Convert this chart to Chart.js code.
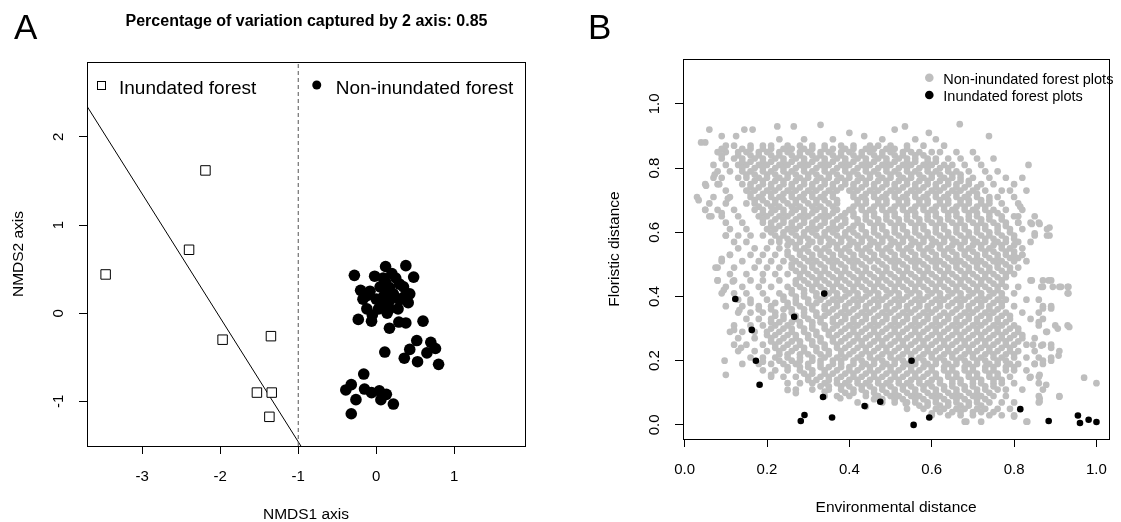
<!DOCTYPE html>
<html>
<head>
<meta charset="utf-8">
<script src="https://cdn.jsdelivr.net/npm/chart.js@4.4.1/dist/chart.umd.min.js"></script>
<style>
html, body { margin: 0; padding: 0; background: #fff; }
#wrap { position: relative; width: 1121px; height: 522px; overflow: hidden; }
#plotA { position: absolute; left: 0; top: 0; }
#plotB { position: absolute; left: 560px; top: 0; }
</style>
</head>
<body>
<div id="wrap">
  <canvas id="plotA" width="560" height="522"></canvas>
  <canvas id="plotB" width="561" height="522"></canvas>
</div>
<script>
// ---------- panel A : NMDS ordination ----------
var titleA = 'Percentage of variation captured by 2 axis: 0.85';
// [NMDS1, NMDS2]
var inundatedScores = [
  [-2.19, 1.62], [-2.40, 0.72], [-3.47, 0.44], [-1.97, -0.30],
  [-1.35, -0.26], [-1.53, -0.90], [-1.34, -0.90], [-1.37, -1.175]
];
var nonInundatedScores = [
  [-0.28, 0.43], [0.12, 0.53], [0.38, 0.54], [0.48, 0.41], [0.09, 0.40], [-0.20, 0.26],
  [-0.08, 0.25], [0.17, 0.29], [0.30, 0.33], [0.43, 0.22], [-0.17, 0.16], [0.00, 0.16],
  [0.17, 0.14], [0.35, 0.18], [-0.12, 0.05], [0.17, 0.05], [0.41, 0.12], [-0.23, -0.07],
  [-0.06, -0.09], [0.29, -0.10], [0.38, -0.11], [0.60, -0.09], [0.17, -0.17], [0.11, -0.44],
  [0.52, -0.31], [0.70, -0.33], [0.76, -0.40], [0.43, -0.41], [0.36, -0.51], [0.53, -0.55],
  [0.65, -0.45], [0.80, -0.58], [-0.16, -0.69], [-0.32, -0.81], [-0.39, -0.87], [-0.26, -0.98],
  [-0.15, -0.86], [-0.06, -0.90], [0.04, -0.88], [0.06, -0.98], [0.13, -0.92], [0.22, -1.03],
  [-0.32, -1.14], [0.05, 0.30], [0.10, 0.20], [0.22, 0.22], [0.25, 0.40], [0.30, 0.15],
  [0.03, 0.05], [0.12, 0.35], [-0.12, 0.20], [0.20, 0.45], [0.35, 0.30], [-0.02, 0.42],
  [0.28, 0.05], [0.08, 0.10], [0.14, 0.00], [-0.05, -0.02]
];
var splitLine = { a: -2.863, b: -1.405 };   // y = a + b * x
var splitX = -1;
var nmds1Ticks = [-3, -2, -1, 0, 1];
var nmds1TickLabels = ['-3', '-2', '-1', '0', '1'];
var nmds2Ticks = [-1, 0, 1, 2];
var nmds2TickLabels = ['-1', '0', '1', '2'];
var nmds1Range = [-3.709, 1.908];
var nmds2Range = [-1.506, 2.85];

// ---------- panel B : floristic vs environmental distance ----------
// inundated forest plots [env, floristic]
var inundatedPairs = [
  [0.123, 0.392], [0.163, 0.296], [0.173, 0.200], [0.182, 0.125], [0.266, 0.337],
  [0.339, 0.409], [0.336, 0.087], [0.291, 0.031], [0.282, 0.012], [0.358, 0.023],
  [0.437, 0.059], [0.475, 0.072], [0.551, 0.200], [0.556, 0.000], [0.594, 0.023],
  [0.815, 0.049], [0.884, 0.012], [0.955, 0.029], [0.960, 0.006], [0.981, 0.016],
  [1.000, 0.009]
];
// non-inundated plots, main cloud: [floristic distance, env distances x100]
var nonInundRows = [
  [0.89, [23,29,36,48,56,61]],
  [0.87, [10,12,16,19,21,25,28,31,34,38,41,45,47,50,54,58,63]],
  [0.86, [14,16,19,21,24,26,29,31,34,36,39,41,44,46,49,51,54]],
  [0.85, [8,10,13,15,18,20,23,25,28,30,33,35,38,40,43,45,48,50,53,55,57,60,62,66,70]],
  [0.84, [13,16,18,21,23,26,28,31,33,36,38,41,43,46,48,51,53,56,58]],
  [0.83, [9,12,14,17,19,22,24,27,29,32,34,37,39,42,44,47,49,52,54,56,59,61,64,67,71,75]],
  [0.82, [14,16,19,21,24,26,29,31,34,36,39,41,44,46,49,51,54,56,59,61]],
  [0.81, [7,10,13,15,18,20,23,25,28,30,33,35,38,40,43,45,48,50,53,55,58,60,63,65,68,72]],
  [0.80, [14,17,19,22,24,27,29,32,34,37,39,42,44,47,49,52,54,57,59,62,64]],
  [0.79, [8,11,14,16,19,21,24,26,29,31,34,36,39,41,44,46,49,51,54,56,59,61,64,66,69,73,76]],
  [0.78, [15,17,20,22,25,27,30,32,35,37,40,42,45,47,50,52,55,57,60,62,65,67]],
  [0.77, [7,9,13,15,18,20,23,25,28,30,33,35,38,40,43,45,48,50,53,55,58,60,63,65,67,70,74,78,82]],
  [0.76, [17,19,22,24,27,29,32,34,37,39,42,44,47,49,52,54,57,59,62,64,67,69]],
  [0.75, [5,8,14,16,19,21,24,26,29,31,34,36,39,41,44,46,49,51,54,56,59,61,64,66,69,72,75,80]],
  [0.74, [16,18,21,23,26,28,31,33,36,38,41,43,46,48,51,53,56,58,61,63,66,68,71]],
  [0.73, [10,15,17,20,22,25,27,30,32,35,37,40,42,45,47,50,52,55,57,60,62,65,67,70,73,77,79,83]],
  [0.72, [16,19,21,24,26,29,31,34,36,41,44,46,49,51,54,56,59,61,64,66,69,71]],
  [0.71, [3,7,11,16,18,21,23,26,28,31,33,36,41,43,46,48,51,53,56,58,61,63,66,68,71,74,76,80]],
  [0.70, [17,19,22,24,27,29,32,34,37,42,44,47,49,52,54,57,59,62,64,67,69,72,74]],
  [0.69, [6,10,15,17,20,22,25,27,30,32,35,37,42,44,47,49,52,54,57,59,62,64,67,69,72,74,77,81]],
  [0.68, [18,21,23,26,28,31,33,36,41,43,46,48,51,53,56,58,61,63,66,68,71,73]],
  [0.67, [5,8,12,17,19,22,24,27,29,32,34,37,40,43,45,48,50,53,55,58,60,63,65,68,70,73,75,78,82]],
  [0.66, [19,21,24,26,29,31,34,36,39,41,44,46,49,51,54,56,59,61,64,66,69,71,74,76]],
  [0.65, [6,9,13,18,20,23,25,28,30,33,35,38,41,44,46,49,51,54,56,59,61,64,66,69,71,74,77,80,85]],
  [0.64, [19,22,24,27,29,32,34,37,39,42,44,47,49,52,54,57,59,62,64,67,69,72,74,77]],
  [0.63, [10,14,19,21,24,26,29,31,34,36,39,42,45,47,50,52,55,57,60,62,65,67,70,72,75,78,81,84,86]],
  [0.62, [21,23,26,28,31,33,36,38,41,43,46,48,51,53,56,58,61,63,66,68,71,73,76,78]],
  [0.61, [11,15,20,22,25,27,30,32,35,37,40,43,46,48,51,53,56,58,61,63,66,68,71,73,76,79,82,88]],
  [0.60, [21,24,26,29,31,34,36,39,41,44,46,49,51,54,56,59,61,64,66,69,71,74,76,79]],
  [0.59, [10,13,16,19,22,24,27,29,32,34,37,39,42,44,47,49,52,54,57,59,62,64,67,69,72,74,77,80,85,88]],
  [0.58, [23,25,28,30,33,35,38,40,43,45,48,50,53,55,58,60,63,65,68,70,73,75,78,80]],
  [0.57, [12,15,21,23,26,28,31,33,36,38,41,43,46,48,51,53,56,58,61,63,66,68,71,73,76,78,81,84]],
  [0.56, [25,27,30,35,37,40,42,45,47,50,52,55,57,60,62,65,67,70,72,75,77,80]],
  [0.55, [13,17,20,23,27,29,32,34,37,39,42,44,47,49,52,54,57,59,62,64,67,69,72,74,77,79,82]],
  [0.54, [25,28,30,33,35,38,40,43,45,48,50,53,55,58,60,63,65,68,70,73,75,78,80]],
  [0.53, [11,16,19,22,25,28,31,33,36,38,41,43,46,48,51,53,56,58,61,63,66,68,71,73,76,78,80,82]],
  [0.52, [26,29,31,34,36,39,41,44,46,49,51,54,56,59,61,64,66,69,71,74,76,79,81]],
  [0.51, [9,14,18,21,24,27,30,32,35,37,40,42,45,47,50,52,55,57,60,62,65,67,70,72,75,77,80,83]],
  [0.50, [26,28,31,33,36,38,41,43,48,51,53,56,58,61,63,66,68,71,73,76,78]],
  [0.49, [8,12,17,20,23,26,29,31,34,36,39,41,44,46,49,51,54,56,59,61,64,66,69,71,74,76,79,81]],
  [0.48, [27,29,32,34,37,39,42,44,47,49,52,54,57,59,62,64,67,69,72,74,77,79]],
  [0.47, [11,15,19,22,25,28,30,33,35,38,40,43,45,48,50,53,55,58,60,63,65,68,70,73,75,78,80]],
  [0.46, [28,31,33,36,38,41,43,46,48,51,53,56,58,61,63,66,68,71,73,76,78]],
  [0.45, [8,12,16,19,23,27,29,32,34,37,39,42,44,47,49,52,54,57,59,62,64,67,69,72,74,77,84,87,89]],
  [0.44, [27,30,32,35,37,40,42,45,47,50,52,55,57,60,62,65,67,70,72,75,77]],
  [0.43, [10,14,18,21,25,28,31,33,36,38,41,43,46,48,51,53,56,58,61,63,66,68,71,73,76,78,81,87,91,93]],
  [0.42, [26,29,31,34,36,39,41,44,46,49,51,54,56,59,61,64,66,69,71,74,76]],
  [0.41, [9,12,15,19,23,26,29,32,35,37,40,42,45,47,50,52,55,57,60,62,65,67,70,72,75,77,80,93]],
  [0.40, [24,27,29,32,34,37,39,42,44,47,49,52,54,57,59,62,64,67,69,72,74,77]],
  [0.39, [13,16,20,24,27,30,33,36,38,41,43,46,48,51,53,56,58,61,63,66,68,71,73,76,78,83,86]],
  [0.38, [22,25,27,30,32,35,37,40,42,45,47,50,52,55,57,60,62,65,67,70,72,75,77]],
  [0.37, [10,14,18,21,25,28,31,34,37,39,42,44,47,49,52,54,57,59,62,64,67,69,72,74,77,80,87,89]],
  [0.36, [21,24,26,29,31,34,36,39,41,44,46,49,51,54,56,59,61,66,69,71,74,76]],
  [0.35, [13,16,19,22,26,29,32,35,38,40,43,45,48,50,53,55,58,60,63,65,68,70,73,75,78,82,86]],
  [0.34, [22,24,27,29,32,34,37,39,42,44,47,49,52,54,57,59,62,64,67,69,72,74,77,79]],
  [0.33, [15,18,21,24,27,30,33,36,39,41,44,46,49,51,54,56,59,61,64,66,69,71,74,76,79,84,87]],
  [0.32, [21,23,26,28,31,33,36,38,41,43,46,48,51,53,56,58,61,63,66,68,71,73,76,78]],
  [0.31, [12,16,19,22,25,28,31,34,37,40,42,45,47,50,52,55,57,60,62,65,67,70,72,75,77,80,86,90,93]],
  [0.30, [21,24,26,29,31,34,36,39,41,44,46,49,51,54,56,59,61,64,66,69,71,74,76,79,81]],
  [0.29, [11,14,17,20,23,26,29,32,35,38,41,43,46,48,51,53,56,58,61,63,66,68,71,73,76,78,81,88]],
  [0.28, [20,22,25,27,30,32,35,37,40,42,45,47,50,52,55,57,60,62,65,67,70,72,75,77,80,82]],
  [0.27, [13,17,21,24,27,30,33,36,39,42,44,47,49,52,54,57,59,62,64,67,69,72,74,77,79,82,85]],
  [0.26, [21,23,26,28,31,33,36,38,41,43,46,48,51,53,56,58,61,63,66,68,71,73,76,78,81]],
  [0.25, [12,15,19,22,25,28,31,34,37,40,43,45,48,50,53,55,58,60,63,65,68,70,73,75,78,80,83,87,89]],
  [0.24, [22,24,27,29,32,34,37,39,42,44,47,49,52,54,57,59,62,64,67,69,72,74,77,79]],
  [0.23, [13,17,20,23,26,29,32,35,38,41,44,46,49,51,54,56,59,61,64,66,69,71,74,76,79,81,85,91]],
  [0.22, [23,25,28,30,33,35,38,40,43,45,48,50,53,55,58,60,63,65,68,70,73,75,78,80]],
  [0.21, [16,19,22,25,28,31,34,37,39,42,45,47,50,52,55,57,60,62,65,67,70,72,75,77,80,83,86,89]],
  [0.20, [23,26,28,31,33,36,38,41,43,46,48,51,53,56,58,61,63,66,68,71,73,76,78]],
  [0.19, [14,18,21,24,27,30,33,36,38,41,44,46,49,51,54,56,59,61,64,66,69,71,74,76,79,81,85,87]],
  [0.18, [25,28,30,33,35,38,40,43,45,48,50,53,55,58,60,63,65,68,70,73,75,78,80]],
  [0.17, [19,22,25,28,31,34,37,40,42,45,47,50,52,55,57,60,63,65,68,70,73,75,78,80,83]],
  [0.16, [29,31,34,36,39,41,44,46,49,51,54,56,59,61,64,66,69,71,74,76]],
  [0.15, [21,24,27,30,33,35,38,41,43,46,48,51,53,56,58,61,64,66,69,71,74,76,79,84,86]],
  [0.14, [30,32,35,37,40,42,45,47,50,52,55,57,60,62,65,67,70,72,75,77]],
  [0.13, [25,28,31,34,37,39,42,44,47,49,52,54,57,59,62,65,67,70,72,75,77,80,86]],
  [0.12, [33,35,38,40,43,45,48,50,53,55,58,60,63,65,68,70,73,75]],
  [0.11, [27,31,35,38,41,43,46,48,51,53,56,58,61,63,66,68,71,73,76,78,82,87]],
  [0.10, [39,41,44,46,49,51,54,56,59,61,64,66,69,71,74]],
  [0.09, [34,37,40,44,47,50,52,55,57,60,62,65,67,70,72,75,78,86,91]],
  [0.08, [46,48,51,53,56,58,61,63,66,68,71,73]],
  [0.07, [42,48,51,54,56,59,61,64,66,69,71,74,77,80,86]],
  [0.06, [57,59,62,64,67,69,72]],
  [0.05, [54,58,61,63,66,68,71,73,76,79]],
  [0.04, [62,65,67,70,72,75]],
  [0.03, [60,64,67,70,74,77,80]],
  [0.01, [68,72,83]]
];
// non-inundated plots, scattered edge points [env, floristic]
var nonInundEdge = [
  [0.06,0.92],[0.04,0.88],[0.05,0.88],[0.09,0.90],[0.125,0.90],[0.145,0.92],[0.165,0.92],
  [0.225,0.93],[0.265,0.93],[0.33,0.935],[0.40,0.91],[0.436,0.90],[0.51,0.92],[0.535,0.93],
  [0.593,0.91],[0.668,0.937],[0.739,0.90],[0.835,0.81],
  [0.034,0.70],[0.052,0.745],[0.05,0.67],[0.065,0.65],[0.073,0.78],[0.084,0.75],[0.09,0.86],
  [0.09,0.84],[0.09,0.66],[0.105,0.705],[0.10,0.59],[0.09,0.517],[0.075,0.49],[0.08,0.45],
  [0.095,0.42],[0.11,0.53],[0.117,0.447],[0.097,0.20],[0.10,0.156],[0.12,0.296],[0.133,0.358],
  [0.137,0.24],[0.16,0.38],[0.18,0.36],
  [0.815,0.68],[0.81,0.65],[0.81,0.63],[0.843,0.626],[0.862,0.626],[0.886,0.615],[0.886,0.59],
  [0.85,0.597],[0.82,0.53],[0.843,0.45],[0.866,0.43],[0.884,0.45],[0.894,0.43],[0.914,0.43],
  [0.932,0.43],[0.932,0.41],[0.87,0.363],[0.89,0.363],[0.86,0.32],[0.878,0.29],[0.906,0.30],
  [0.934,0.305],[0.846,0.25],[0.866,0.247],[0.89,0.24],[0.908,0.216],[0.85,0.19],[0.87,0.20],
  [0.89,0.20],[0.838,0.147],[0.862,0.156],[0.878,0.125],[0.97,0.147],[1.0,0.13],[0.91,0.088],
  [0.862,0.083],[0.862,0.073],[0.832,0.01],[0.80,0.026],
  [0.684,0.01],[0.60,0.036],[0.537,0.067],[0.513,0.093],[0.44,0.057],[0.378,0.083],[0.34,0.104],
  [0.27,0.099],[0.25,0.109],[0.21,0.156],[0.19,0.197]
];
var envTicks = [0, 0.2, 0.4, 0.6, 0.8, 1.0];
var envTickLabels = ['0.0', '0.2', '0.4', '0.6', '0.8', '1.0'];
var floTicks = [0, 0.2, 0.4, 0.6, 0.8, 1.0];
var floTickLabels = ['0.0', '0.2', '0.4', '0.6', '0.8', '1.0'];
var envRange = [-0.004, 1.031];
var floRange = [-0.044, 1.14];

var FONT = "'Liberation Sans', Arial, Helvetica, sans-serif";

function pts(pairs) {
  return pairs.map(function (p) { return { x: p[0], y: p[1] }; });
}

function axis(range, ticks, labels, extra, hideLabels) {
  var o = {
    type: 'linear', min: range[0], max: range[1],
    border: { display: false },
    grid: { drawOnChartArea: false, drawTicks: true, tickLength: 8, color: '#000', lineWidth: 1 },
    ticks: {
      autoSkip: false, maxRotation: 0, padding: 14,
      color: hideLabels ? 'rgba(0,0,0,0)' : '#000',
      font: { family: FONT, size: 15 },
      callback: function (v, i) { return labels[i]; }
    },
    afterBuildTicks: function (s) { s.ticks = ticks.map(function (v) { return { value: v }; }); }
  };
  for (var k in extra) o[k] = extra[k];
  return o;
}

// box, rotated y tick labels and axis titles, R style
function drawFrame(chart, yLabels, xTitle, yTitle) {
  var ctx = chart.ctx, a = chart.chartArea, ys = chart.scales.y;
  ctx.save();
  ctx.strokeStyle = '#000';
  ctx.lineWidth = 1;
  ctx.strokeRect(Math.round(a.left) + 0.5, Math.round(a.top) + 0.5,
                 Math.round(a.right - a.left), Math.round(a.bottom - a.top));
  ctx.fillStyle = '#000';
  ctx.textAlign = 'center';
  ctx.textBaseline = 'middle';
  ctx.font = '15px ' + FONT;
  ys.ticks.forEach(function (t, i) {
    ctx.save();
    ctx.translate(a.left - 28, ys.getPixelForValue(t.value));
    ctx.rotate(-Math.PI / 2);
    ctx.fillText(yLabels[i], 0, 0);
    ctx.restore();
  });
  ctx.font = '15.5px ' + FONT;
  ctx.fillText(xTitle, (a.left + a.right) / 2, a.bottom + 69);
  ctx.save();
  ctx.translate(a.left - 68, (a.top + a.bottom) / 2);
  ctx.rotate(-Math.PI / 2);
  ctx.fillText(yTitle, 0, 0);
  ctx.restore();
  ctx.restore();
}

var panelA = {
  id: 'panelA',
  afterDraw: function (chart) {
    var ctx = chart.ctx, a = chart.chartArea;
    var splitPx = chart.scales.x.getPixelForValue(splitX);
    drawFrame(chart, nmds2TickLabels, 'NMDS1 axis', 'NMDS2 axis');
    ctx.save();
    ctx.fillStyle = '#000';
    ctx.textBaseline = 'alphabetic';
    ctx.textAlign = 'left';
    ctx.font = '35px ' + FONT;
    ctx.fillText('A', 14, 39);
    ctx.textAlign = 'center';
    ctx.font = 'bold 16px ' + FONT;
    ctx.fillText(titleA, 306.5, 26);
    // legends
    ctx.textAlign = 'left';
    ctx.font = '19px ' + FONT;
    ctx.strokeStyle = '#000';
    ctx.lineWidth = 1;
    ctx.strokeRect(Math.round(a.left + 10) + 0.5, a.top + 19.5, 8, 8);
    ctx.fillText(chart.data.datasets[0].label, a.left + 32, a.top + 32);
    ctx.beginPath();
    ctx.arc(splitPx + 18.5, a.top + 23, 4.5, 0, 2 * Math.PI);
    ctx.fill();
    ctx.fillText(chart.data.datasets[1].label, splitPx + 37.5, a.top + 32);
    ctx.restore();
  }
};

var panelB = {
  id: 'panelB',
  afterDraw: function (chart) {
    var ctx = chart.ctx, a = chart.chartArea;
    drawFrame(chart, floTickLabels, 'Environmental distance', 'Floristic distance');
    ctx.save();
    ctx.fillStyle = '#000';
    ctx.textBaseline = 'alphabetic';
    ctx.textAlign = 'left';
    ctx.font = '35px ' + FONT;
    ctx.fillText('B', 28, 39);
    ctx.font = '14.5px ' + FONT;
    var items = [chart.data.datasets[1], chart.data.datasets[0]];
    items.forEach(function (ds, i) {
      var cy = a.top + 18.7 + i * 17.3;
      ctx.fillStyle = ds.backgroundColor;
      ctx.beginPath();
      ctx.arc(369.3, cy, 4.3, 0, 2 * Math.PI);
      ctx.fill();
      ctx.fillStyle = '#000';
      ctx.fillText(ds.label, 383.3, cy + 6.3);
    });
    ctx.restore();
  }
};

// ---------- chart A ----------
var lineXs = [nmds1Range[0], nmds1Range[1]];
var lineData = lineXs.map(function (x) { return { x: x, y: splitLine.a + splitLine.b * x }; });

new Chart(document.getElementById('plotA'), {
  type: 'scatter',
  data: {
    datasets: [
      { label: 'Inundated forest', data: pts(inundatedScores), pointStyle: 'rect',
        pointRadius: 6.7, backgroundColor: '#fff', borderColor: '#000', borderWidth: 1, order: 0 },
      { label: 'Non-inundated forest', data: pts(nonInundatedScores), pointStyle: 'circle',
        pointRadius: 5.8, backgroundColor: '#000', borderColor: '#000', borderWidth: 0, order: 1 },
      { label: 'fit', data: lineData, showLine: true, pointRadius: 0, borderColor: '#000',
        borderWidth: 1, clip: 0, order: 3 },
      { label: 'split', data: [{ x: splitX, y: nmds2Range[0] }, { x: splitX, y: nmds2Range[1] }],
        showLine: true, pointRadius: 0, borderColor: '#555', borderWidth: 1, borderDash: [4, 3],
        clip: 0, order: 2 }
    ]
  },
  options: {
    responsive: false, animation: false, devicePixelRatio: 1,
    layout: { padding: { left: 0, right: 35, top: 62, bottom: 0 } },
    plugins: { legend: { display: false }, tooltip: { enabled: false }, title: { display: false } },
    scales: {
      x: axis(nmds1Range, nmds1Ticks, nmds1TickLabels, {
        position: 'bottom', afterFit: function (s) { s.height = 76; } }),
      y: axis(nmds2Range, nmds2Ticks, nmds2TickLabels, {
        position: 'left', afterFit: function (s) { s.width = 87; } }, true)
    }
  },
  plugins: [panelA]
});

// ---------- chart B ----------
var greyPts = [];
nonInundRows.forEach(function (row) {
  row[1].forEach(function (e) { greyPts.push({ x: e / 100, y: row[0] }); });
});
greyPts = greyPts.concat(pts(nonInundEdge));

new Chart(document.getElementById('plotB'), {
  type: 'scatter',
  data: {
    datasets: [
      { label: 'Inundated forest plots', data: pts(inundatedPairs), pointRadius: 3.3,
        backgroundColor: '#000', borderWidth: 0, order: 0 },
      { label: 'Non-inundated forest plots', data: greyPts, pointRadius: 3.35,
        backgroundColor: '#bebebe', borderWidth: 0, order: 1 }
    ]
  },
  options: {
    responsive: false, animation: false, devicePixelRatio: 1,
    layout: { padding: { left: 0, right: 3, top: 59, bottom: 0 } },
    plugins: { legend: { display: false }, tooltip: { enabled: false }, title: { display: false } },
    scales: {
      x: axis(envRange, envTicks, envTickLabels, {
        position: 'bottom', afterFit: function (s) { s.height = 83; } }),
      y: axis(floRange, floTicks, floTickLabels, {
        position: 'left', afterFit: function (s) { s.width = 123; } }, true)
    }
  },
  plugins: [panelB]
});
</script>
</body>
</html>
